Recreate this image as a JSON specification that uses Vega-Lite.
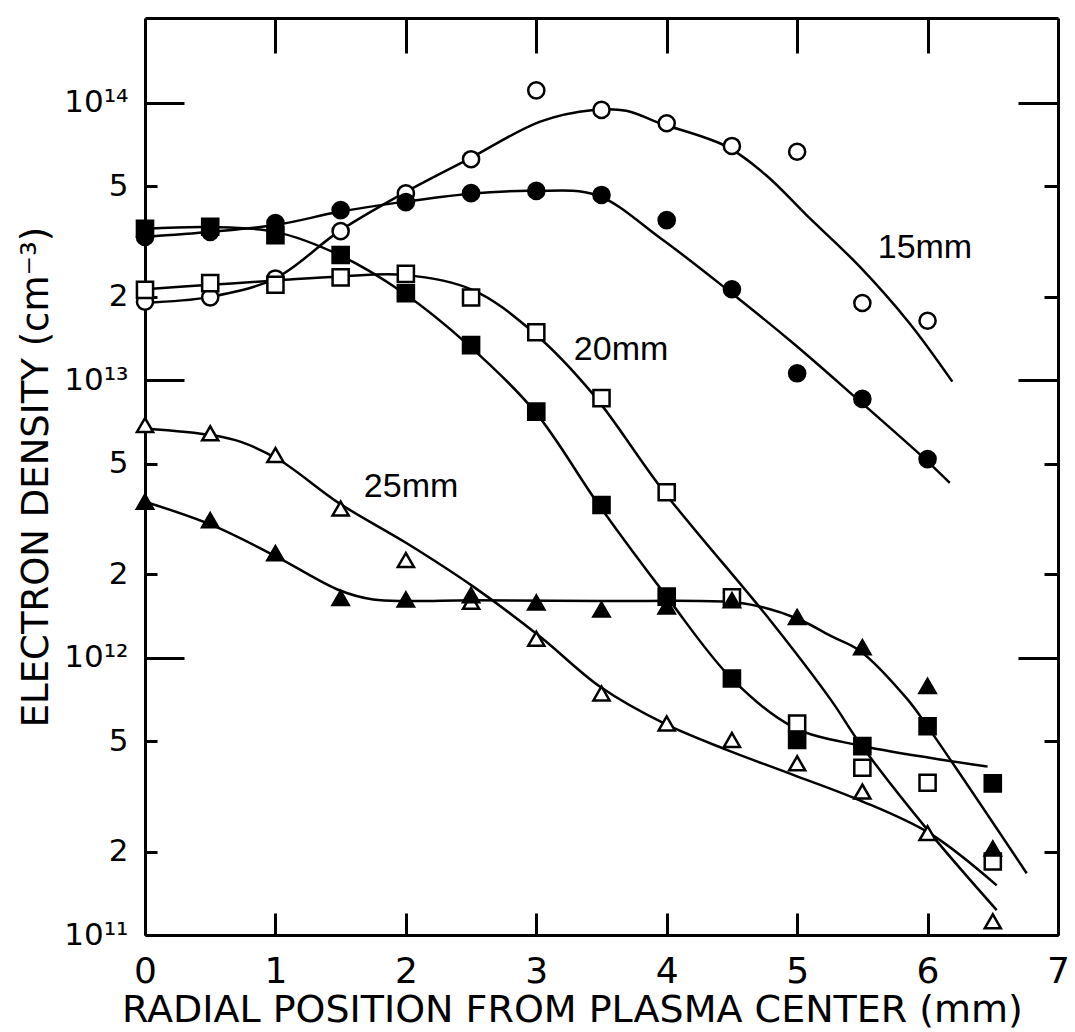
{
  "$schema": "https://vega.github.io/schema/vega-lite/v6.json",
  "width": 913,
  "height": 917,
  "autosize": "none",
  "padding": {"left": 145, "top": 18, "right": 17, "bottom": 97},
  "background": "white",
  "config": {
    "view": {"stroke": null},
    "axis": {
      "domainColor": "black", "domainWidth": 3, "tickColor": "black", "tickWidth": 3,
      "labelColor": "black", "titleColor": "black", "labelFont": "DejaVu Sans",
      "titleFont": "DejaVu Sans", "titleFontWeight": "normal", "grid": false
    }
  },
  "datasets": {
    "points": [
      {"series": "15mm open", "x": 0, "density": 1.92e13},
      {"series": "15mm open", "x": 0.5, "density": 1.99e13},
      {"series": "15mm open", "x": 1, "density": 2.33e13},
      {"series": "15mm open", "x": 1.5, "density": 3.45e13},
      {"series": "15mm open", "x": 2, "density": 4.72e13},
      {"series": "15mm open", "x": 2.5, "density": 6.27e13},
      {"series": "15mm open", "x": 3, "density": 1.11e14},
      {"series": "15mm open", "x": 3.5, "density": 9.44e13},
      {"series": "15mm open", "x": 4, "density": 8.45e13},
      {"series": "15mm open", "x": 4.5, "density": 7.0e13},
      {"series": "15mm open", "x": 5, "density": 6.67e13},
      {"series": "15mm open", "x": 5.5, "density": 1.90e13},
      {"series": "15mm open", "x": 6, "density": 1.64e13},
      {"series": "15mm filled", "x": 0, "density": 3.29e13},
      {"series": "15mm filled", "x": 0.5, "density": 3.43e13},
      {"series": "15mm filled", "x": 1, "density": 3.69e13},
      {"series": "15mm filled", "x": 1.5, "density": 4.11e13},
      {"series": "15mm filled", "x": 2, "density": 4.39e13},
      {"series": "15mm filled", "x": 2.5, "density": 4.73e13},
      {"series": "15mm filled", "x": 3, "density": 4.82e13},
      {"series": "15mm filled", "x": 3.5, "density": 4.66e13},
      {"series": "15mm filled", "x": 4, "density": 3.78e13},
      {"series": "15mm filled", "x": 4.5, "density": 2.13e13},
      {"series": "15mm filled", "x": 5, "density": 1.06e13},
      {"series": "15mm filled", "x": 5.5, "density": 8.57e12},
      {"series": "15mm filled", "x": 6, "density": 5.2e12},
      {"series": "20mm open", "x": 0, "density": 2.12e13},
      {"series": "20mm open", "x": 0.5, "density": 2.24e13},
      {"series": "20mm open", "x": 1, "density": 2.21e13},
      {"series": "20mm open", "x": 1.5, "density": 2.35e13},
      {"series": "20mm open", "x": 2, "density": 2.42e13},
      {"series": "20mm open", "x": 2.5, "density": 1.99e13},
      {"series": "20mm open", "x": 3, "density": 1.49e13},
      {"series": "20mm open", "x": 3.5, "density": 8.63e12},
      {"series": "20mm open", "x": 4, "density": 3.95e12},
      {"series": "20mm open", "x": 4.5, "density": 1.65e12},
      {"series": "20mm open", "x": 5, "density": 5.79e11},
      {"series": "20mm open", "x": 5.5, "density": 4.01e11},
      {"series": "20mm open", "x": 6, "density": 3.54e11},
      {"series": "20mm open", "x": 6.5, "density": 1.84e11},
      {"series": "20mm filled", "x": 0, "density": 3.52e13},
      {"series": "20mm filled", "x": 0.5, "density": 3.58e13},
      {"series": "20mm filled", "x": 1, "density": 3.34e13},
      {"series": "20mm filled", "x": 1.5, "density": 2.83e13},
      {"series": "20mm filled", "x": 2, "density": 2.06e13},
      {"series": "20mm filled", "x": 2.5, "density": 1.34e13},
      {"series": "20mm filled", "x": 3, "density": 7.71e12},
      {"series": "20mm filled", "x": 3.5, "density": 3.55e12},
      {"series": "20mm filled", "x": 4, "density": 1.66e12},
      {"series": "20mm filled", "x": 4.5, "density": 8.41e11},
      {"series": "20mm filled", "x": 5, "density": 5.05e11},
      {"series": "20mm filled", "x": 5.5, "density": 4.80e11},
      {"series": "20mm filled", "x": 6, "density": 5.66e11},
      {"series": "20mm filled", "x": 6.5, "density": 3.52e11},
      {"series": "25mm open", "x": 0, "density": 6.90e12},
      {"series": "25mm open", "x": 0.5, "density": 6.44e12},
      {"series": "25mm open", "x": 1, "density": 5.38e12},
      {"series": "25mm open", "x": 1.5, "density": 3.45e12},
      {"series": "25mm open", "x": 2, "density": 2.25e12},
      {"series": "25mm open", "x": 2.5, "density": 1.59e12},
      {"series": "25mm open", "x": 3, "density": 1.17e12},
      {"series": "25mm open", "x": 3.5, "density": 7.43e11},
      {"series": "25mm open", "x": 4, "density": 5.79e11},
      {"series": "25mm open", "x": 4.5, "density": 5.05e11},
      {"series": "25mm open", "x": 5, "density": 4.16e11},
      {"series": "25mm open", "x": 5.5, "density": 3.29e11},
      {"series": "25mm open", "x": 6, "density": 2.33e11},
      {"series": "25mm open", "x": 6.5, "density": 1.12e11},
      {"series": "25mm filled", "x": 0, "density": 3.65e12},
      {"series": "25mm filled", "x": 0.5, "density": 3.13e12},
      {"series": "25mm filled", "x": 1, "density": 2.38e12},
      {"series": "25mm filled", "x": 1.5, "density": 1.64e12},
      {"series": "25mm filled", "x": 2, "density": 1.62e12},
      {"series": "25mm filled", "x": 2.5, "density": 1.68e12},
      {"series": "25mm filled", "x": 3, "density": 1.58e12},
      {"series": "25mm filled", "x": 3.5, "density": 1.49e12},
      {"series": "25mm filled", "x": 4, "density": 1.53e12},
      {"series": "25mm filled", "x": 4.5, "density": 1.61e12},
      {"series": "25mm filled", "x": 5, "density": 1.40e12},
      {"series": "25mm filled", "x": 5.5, "density": 1.09e12},
      {"series": "25mm filled", "x": 6, "density": 7.91e11},
      {"series": "25mm filled", "x": 6.5, "density": 2.05e11}
    ],
    "curves": [
      {"curve": "15mm open", "x": 0, "density": 1.905e13},
      {"curve": "15mm open", "x": 0.49, "density": 1.995e13},
      {"curve": "15mm open", "x": 1.0, "density": 2.333e13},
      {"curve": "15mm open", "x": 1.49, "density": 3.451e13},
      {"curve": "15mm open", "x": 1.98, "density": 4.72e13},
      {"curve": "15mm open", "x": 2.48, "density": 6.27e13},
      {"curve": "15mm open", "x": 3.03, "density": 8.57e13},
      {"curve": "15mm open", "x": 3.44, "density": 9.44e13},
      {"curve": "15mm open", "x": 3.69, "density": 9.38e13},
      {"curve": "15mm open", "x": 3.95, "density": 8.45e13},
      {"curve": "15mm open", "x": 4.45, "density": 7.0e13},
      {"curve": "15mm open", "x": 4.76, "density": 5.5e13},
      {"curve": "15mm open", "x": 5.07, "density": 3.95e13},
      {"curve": "15mm open", "x": 5.48, "density": 2.57e13},
      {"curve": "15mm open", "x": 5.86, "density": 1.61e13},
      {"curve": "15mm open", "x": 6.19, "density": 9.89e12},
      {"curve": "15mm filled", "x": 0, "density": 3.29e13},
      {"curve": "15mm filled", "x": 0.51, "density": 3.43e13},
      {"curve": "15mm filled", "x": 1.0, "density": 3.63e13},
      {"curve": "15mm filled", "x": 1.49, "density": 4.05e13},
      {"curve": "15mm filled", "x": 1.98, "density": 4.40e13},
      {"curve": "15mm filled", "x": 2.48, "density": 4.70e13},
      {"curve": "15mm filled", "x": 2.97, "density": 4.82e13},
      {"curve": "15mm filled", "x": 3.46, "density": 4.66e13},
      {"curve": "15mm filled", "x": 3.95, "density": 3.26e13},
      {"curve": "15mm filled", "x": 4.46, "density": 2.13e13},
      {"curve": "15mm filled", "x": 4.97, "density": 1.36e13},
      {"curve": "15mm filled", "x": 5.46, "density": 8.57e12},
      {"curve": "15mm filled", "x": 5.98, "density": 5.2e12},
      {"curve": "15mm filled", "x": 6.17, "density": 4.27e12},
      {"curve": "20mm filled", "x": 0, "density": 3.52e13},
      {"curve": "20mm filled", "x": 0.5, "density": 3.57e13},
      {"curve": "20mm filled", "x": 1.0, "density": 3.43e13},
      {"curve": "20mm filled", "x": 1.49, "density": 2.83e13},
      {"curve": "20mm filled", "x": 1.98, "density": 2.07e13},
      {"curve": "20mm filled", "x": 2.48, "density": 1.34e13},
      {"curve": "20mm filled", "x": 2.99, "density": 7.71e12},
      {"curve": "20mm filled", "x": 3.48, "density": 3.55e12},
      {"curve": "20mm filled", "x": 4.0, "density": 1.66e12},
      {"curve": "20mm filled", "x": 4.5, "density": 8.38e11},
      {"curve": "20mm filled", "x": 4.97, "density": 5.62e11},
      {"curve": "20mm filled", "x": 5.5, "density": 4.80e11},
      {"curve": "20mm filled", "x": 6.46, "density": 4.05e11},
      {"curve": "20mm open", "x": 0, "density": 2.13e13},
      {"curve": "20mm open", "x": 0.5, "density": 2.21e13},
      {"curve": "20mm open", "x": 1.0, "density": 2.29e13},
      {"curve": "20mm open", "x": 1.49, "density": 2.37e13},
      {"curve": "20mm open", "x": 1.99, "density": 2.40e13},
      {"curve": "20mm open", "x": 2.51, "density": 2.12e13},
      {"curve": "20mm open", "x": 2.97, "density": 1.50e13},
      {"curve": "20mm open", "x": 3.43, "density": 8.97e12},
      {"curve": "20mm open", "x": 3.98, "density": 3.96e12},
      {"curve": "20mm open", "x": 4.79, "density": 1.37e12},
      {"curve": "20mm open", "x": 5.26, "density": 7.03e11},
      {"curve": "20mm open", "x": 5.48, "density": 4.92e11},
      {"curve": "20mm open", "x": 6.02, "density": 2.33e11},
      {"curve": "20mm open", "x": 6.53, "density": 1.23e11},
      {"curve": "25mm filled", "x": 0, "density": 3.65e12},
      {"curve": "25mm filled", "x": 0.51, "density": 3.01e12},
      {"curve": "25mm filled", "x": 1.01, "density": 2.31e12},
      {"curve": "25mm filled", "x": 1.49, "density": 1.75e12},
      {"curve": "25mm filled", "x": 1.75, "density": 1.62e12},
      {"curve": "25mm filled", "x": 2.02, "density": 1.60e12},
      {"curve": "25mm filled", "x": 2.51, "density": 1.61e12},
      {"curve": "25mm filled", "x": 3.49, "density": 1.60e12},
      {"curve": "25mm filled", "x": 4.46, "density": 1.59e12},
      {"curve": "25mm filled", "x": 4.71, "density": 1.53e12},
      {"curve": "25mm filled", "x": 5.02, "density": 1.37e12},
      {"curve": "25mm filled", "x": 5.27, "density": 1.19e12},
      {"curve": "25mm filled", "x": 5.48, "density": 1.06e12},
      {"curve": "25mm filled", "x": 5.84, "density": 7.13e11},
      {"curve": "25mm filled", "x": 6.0, "density": 5.64e11},
      {"curve": "25mm filled", "x": 6.76, "density": 1.67e11},
      {"curve": "25mm open", "x": 0, "density": 6.71e12},
      {"curve": "25mm open", "x": 0.51, "density": 6.35e12},
      {"curve": "25mm open", "x": 0.73, "density": 6.01e12},
      {"curve": "25mm open", "x": 1.03, "density": 5.16e12},
      {"curve": "25mm open", "x": 1.49, "density": 3.60e12},
      {"curve": "25mm open", "x": 2.01, "density": 2.58e12},
      {"curve": "25mm open", "x": 2.52, "density": 1.80e12},
      {"curve": "25mm open", "x": 3.03, "density": 1.19e12},
      {"curve": "25mm open", "x": 3.49, "density": 7.85e11},
      {"curve": "25mm open", "x": 3.98, "density": 5.79e11},
      {"curve": "25mm open", "x": 4.46, "density": 4.65e11},
      {"curve": "25mm open", "x": 4.97, "density": 3.78e11},
      {"curve": "25mm open", "x": 5.48, "density": 3.06e11},
      {"curve": "25mm open", "x": 6.02, "density": 2.32e11},
      {"curve": "25mm open", "x": 6.53, "density": 1.51e11}
    ],
    "labels": [
      {"label": "15mm", "x": 5.98, "density": 3.0e13},
      {"label": "20mm", "x": 3.65, "density": 1.29e13},
      {"label": "25mm", "x": 2.04, "density": 4.13e12}
    ]
  },
  "layer": [
    {
      "data": {"name": "curves"},
      "mark": {"type": "line", "stroke": "black", "strokeWidth": 2.5, "interpolate": "catmull-rom"},
      "encoding": {
        "x": {
          "field": "x", "type": "quantitative",
          "scale": {"domain": [0, 7], "nice": false, "zero": false},
          "axis": {
            "orient": "bottom", "values": [0, 1, 2, 3, 4, 5, 6, 7], "tickSize": -22,
            "labelPadding": 41, "labelFontSize": 36, "labelFlush": false,
            "title": "RADIAL POSITION FROM PLASMA CENTER (mm)", "titleFontSize": 38, "titlePadding": 2,
            "titleX": 427
          }
        },
        "y": {
          "field": "density", "type": "quantitative",
          "scale": {"type": "log", "domain": [1e11, 2.025e14], "nice": false},
          "axis": {
            "orient": "left",
            "values": [1e11, 2e11, 5e11, 1e12, 2e12, 5e12, 1e13, 2e13, 5e13, 1e14],
            "tickSize": {"condition": {"test": "abs(log(datum.value)/LN10 - round(log(datum.value)/LN10)) < 0.01", "value": -39}, "value": -12},
            "labelPadding": {"condition": {"test": "abs(log(datum.value)/LN10 - round(log(datum.value)/LN10)) < 0.01", "value": 56}, "value": 29},
            "labelExpr": "abs(log(datum.value)/LN10 - round(log(datum.value)/LN10)) < 0.01 ? '10' + ['¹¹','¹²','¹³','¹⁴'][round(log(datum.value)/LN10) - 11] : format(datum.value / pow(10, floor(log(datum.value)/LN10 + 0.001)), '.0f')",
            "labelFontSize": 31, "labelAlign": "right", "labelBaseline": "middle", "labelFlush": false,
            "title": "ELECTRON DENSITY (cm⁻³)", "titleFontSize": 37, "titlePadding": 8
          }
        },
        "detail": {"field": "curve"}
      }
    },
    {
      "data": {"name": "points"},
      "mark": {"type": "point", "filled": true, "stroke": "black", "strokeWidth": 2.5, "size": 260, "opacity": 1},
      "encoding": {
        "x": {
          "field": "x", "type": "quantitative",
          "axis": {"orient": "top", "values": [1, 2, 3, 4, 5, 6], "tickSize": -35, "labels": false, "title": null}
        },
        "y": {
          "field": "density", "type": "quantitative",
          "axis": {
            "orient": "right",
            "values": [1e11, 2e11, 5e11, 1e12, 2e12, 5e12, 1e13, 2e13, 5e13, 1e14],
            "tickSize": {"condition": {"test": "abs(log(datum.value)/LN10 - round(log(datum.value)/LN10)) < 0.01", "value": -40}, "value": -14},
            "labels": false, "title": null
          }
        },
        "shape": {
          "field": "series", "type": "nominal", "legend": null,
          "scale": {
            "domain": ["15mm open", "15mm filled", "20mm open", "20mm filled", "25mm open", "25mm filled"],
            "range": ["circle", "circle", "square", "square", "triangle-up", "triangle-up"]
          }
        },
        "fill": {
          "field": "series", "type": "nominal", "legend": null,
          "scale": {
            "domain": ["15mm open", "15mm filled", "20mm open", "20mm filled", "25mm open", "25mm filled"],
            "range": ["white", "black", "white", "black", "white", "black"]
          }
        }
      }
    },
    {
      "data": {"name": "labels"},
      "mark": {"type": "text", "font": "Liberation Sans", "fontSize": 34, "align": "center", "baseline": "middle", "color": "black"},
      "encoding": {
        "x": {"field": "x", "type": "quantitative", "axis": null},
        "y": {"field": "density", "type": "quantitative", "axis": null},
        "text": {"field": "label"}
      }
    }
  ],
  "resolve": {"axis": {"x": "independent", "y": "independent"}}
}
